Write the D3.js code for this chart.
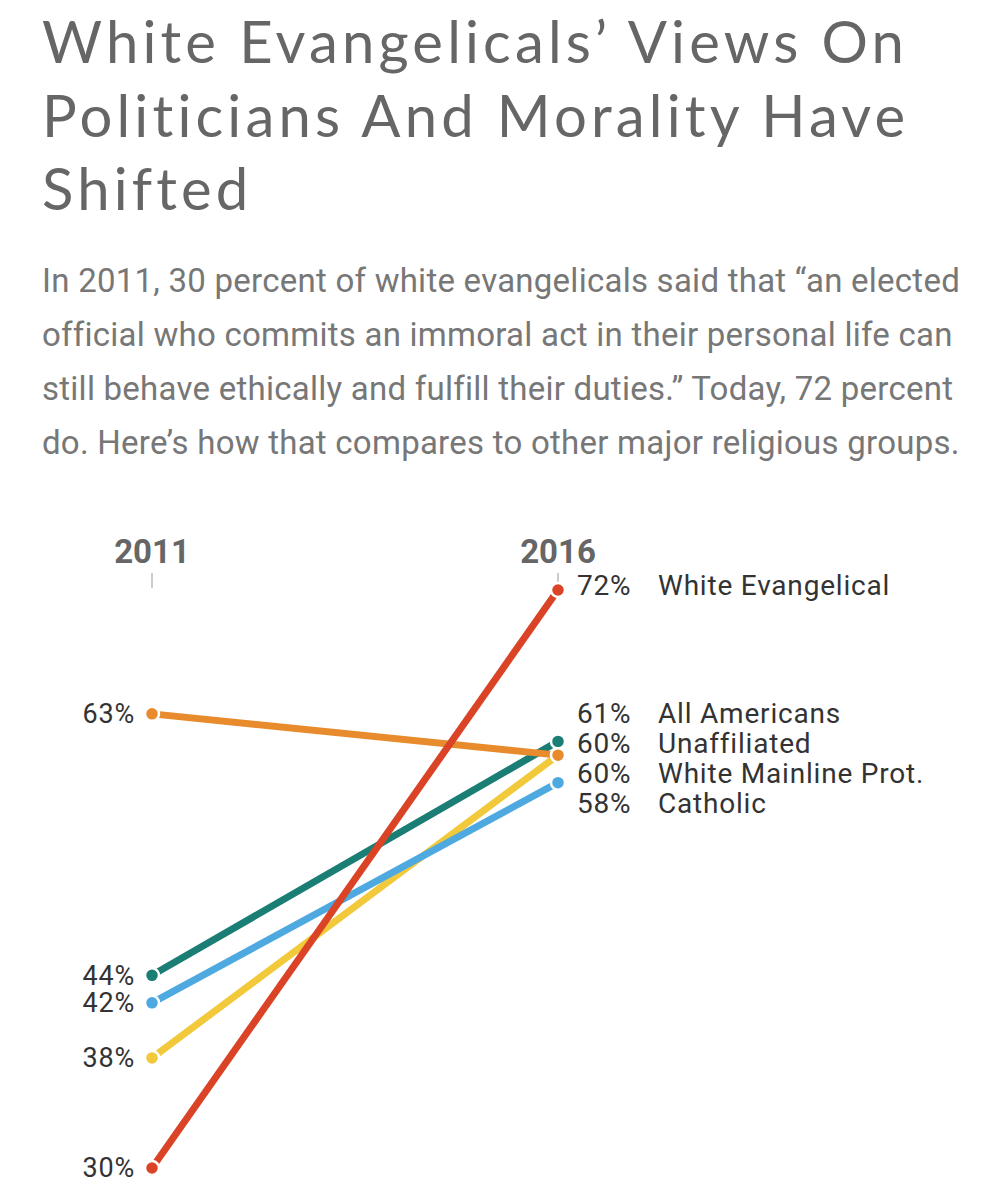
<!DOCTYPE html>
<html><head><meta charset="utf-8">
<script src="https://cdn.jsdelivr.net/npm/d3@7"></script>
<style>
html,body{margin:0;padding:0;background:#fff;}
svg{display:block;}
</style></head>
<body>
<svg id="chart" width="1008" height="1200"></svg>
<script>
const titleLines = ["White Evangelicals\u2019 Views On", "Politicians And Morality Have", "Shifted"];
const subtitleLines = [
  "In 2011, 30 percent of white evangelicals said that \u201can elected",
  "official who commits an immoral act in their personal life can",
  "still behave ethically and fulfill their duties.\u201d Today, 72 percent",
  "do. Here\u2019s how that compares to other major religious groups."
];
const years = ["2011", "2016"];
const groups = ["White Mainline Prot.", "Catholic", "All Americans", "Unaffiliated", "White Evangelical"];
const values2011 = [38, 42, 44, 63, 30];
const values2016 = [60, 58, 61, 60, 72];
const colors = ["#f1c93a", "#4da9df", "#1a7e74", "#e78b2c", "#db4326"];
const labelOrder = ["White Evangelical", "All Americans", "Unaffiliated", "White Mainline Prot.", "Catholic"];

const svg = d3.select("#chart");

// fit letter-spacing so the first line spans a target width
function fitSpacing(sel, target) {
  const node = sel.nodes()[0];
  const n = node.textContent.length;
  const w = node.getComputedTextLength();
  const cur = parseFloat(sel.attr("letter-spacing")) || 0;
  const ls = cur + (target - w) / n;
  sel.attr("letter-spacing", ls);
}

// Title
const tSel = svg.append("g").selectAll("text").data(titleLines).join("text")
  .attr("x", 42).attr("y", (d, i) => 63 + i * 73.5)
  .attr("font-family", "Lato, 'Open Sans', sans-serif")
  .attr("font-size", 58).attr("fill", "#666")
  .attr("letter-spacing", 0)
  .text(d => d);
fitSpacing(tSel, 866);

// Subtitle
const sSel = svg.append("g").selectAll("text").data(subtitleLines).join("text")
  .attr("x", 42).attr("y", (d, i) => 292 + i * 54)
  .attr("font-family", "Roboto, sans-serif")
  .attr("font-size", 33).attr("fill", "#777")
  .attr("letter-spacing", 0)
  .text(d => d);
fitSpacing(sSel, 918);

const x = d3.scalePoint().domain(years).range([152, 558]);
const y = d3.scaleLinear().domain([30, 72]).range([1168, 590]);

// Year headers
svg.append("g").selectAll("text").data(years).join("text")
  .attr("x", d => x(d)).attr("y", 563)
  .attr("text-anchor", "middle")
  .attr("font-family", "Roboto, sans-serif").attr("font-weight", 700)
  .attr("font-size", 33).attr("fill", "#666")
  .text(d => d);
svg.append("g").selectAll("line").data(years).join("line")
  .attr("x1", d => x(d)).attr("x2", d => x(d))
  .attr("y1", 573).attr("y2", 588)
  .attr("stroke", "#ccc").attr("stroke-width", 2);

const data = groups.map((g, i) => ({group: g, v: [values2011[i], values2016[i]], color: colors[i]}));

// Lines
const gl = svg.append("g");
data.forEach(d => {
  gl.append("line")
    .attr("x1", x(years[0])).attr("y1", y(d.v[0]))
    .attr("x2", x(years[1])).attr("y2", y(d.v[1]))
    .attr("stroke", d.color).attr("stroke-width", 7);
});
// Dots
data.forEach(d => {
  years.forEach((yr, j) => {
    gl.append("circle")
      .attr("cx", x(yr)).attr("cy", y(d.v[j])).attr("r", 7)
      .attr("fill", d.color).attr("stroke", "#fff").attr("stroke-width", 2.5);
  });
});

// Left labels
svg.append("g").selectAll("text").data(data).join("text")
  .attr("x", 135).attr("y", d => y(d.v[0]))
  .attr("dy", "0.35em")
  .attr("text-anchor", "end")
  .attr("font-family", "Roboto, sans-serif").attr("font-size", 27).attr("fill", "#333")
  .attr("letter-spacing", 0.8)
  .text(d => d.v[0] + "%");

// Right labels with collision spread
const spacing = 30;
const right = labelOrder.map(n => data.find(d => d.group === n)).map(d => ({d, target: y(d.v[1])}));
let clusters = right.map(r => ({items: [r], center: r.target}));
let changed = true;
while (changed) {
  changed = false;
  for (let i = 0; i < clusters.length - 1; i++) {
    const a = clusters[i], b = clusters[i + 1];
    const aBottom = a.center + (a.items.length - 1) * spacing / 2;
    const bTop = b.center - (b.items.length - 1) * spacing / 2;
    if (bTop - aBottom < spacing) {
      const items = a.items.concat(b.items);
      const center = d3.mean(items, it => it.target);
      clusters.splice(i, 2, {items, center});
      changed = true;
      break;
    }
  }
}
clusters.forEach(c => c.items.forEach((it, k) => {
  it.ly = c.center + (k - (c.items.length - 1) / 2) * spacing;
}));
// the lone top label sits slightly above its dot in the reference
right.forEach(r => { if (clusters.find(c => c.items.includes(r)).items.length === 1) r.ly -= 5; });
const gr = svg.append("g").attr("font-family", "Roboto, sans-serif").attr("font-size", 28)
  .attr("letter-spacing", 0.8).attr("fill", "#333");
gr.selectAll("text.pct").data(right).join("text").attr("class", "pct")
  .attr("x", 577).attr("y", r => r.ly).attr("dy", "0.35em")
  .text(r => r.d.v[1] + "%");
gr.selectAll("text.name").data(right).join("text").attr("class", "name")
  .attr("x", 658).attr("y", r => r.ly).attr("dy", "0.35em")
  .text(r => r.d.group);
</script>
</body></html>
